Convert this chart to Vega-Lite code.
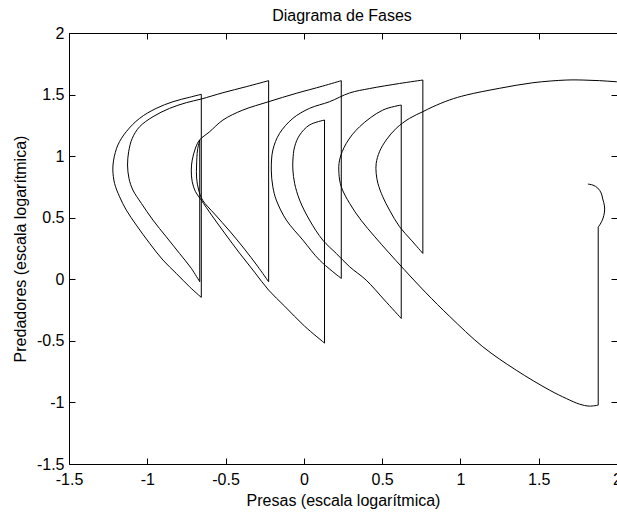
{
  "$schema": "https://vega.github.io/schema/vega-lite/v6.json",
  "width": 548,
  "height": 431,
  "autosize": {"type": "none"},
  "padding": {"left": 69, "top": 33, "right": 0, "bottom": 50},
  "background": "white",
  "config": {
    "view": {"stroke": null},
    "axis": {"domainColor": "#000", "tickColor": "#000", "labelColor": "#000", "titleColor": "#000", "domainWidth": 1, "tickWidth": 1, "grid": false, "labelFont": "Liberation Sans", "titleFont": "Liberation Sans", "labelFontSize": 16, "titleFontSize": 16, "titleFontWeight": "normal", "labelFlush": false, "labelOverlap": false}
  },
  "data": {"values": [
    {"s":"O7","i":0,"x":2.15,"y":1.59},{"s":"O7","i":1,"x":1.997,"y":1.604},{"s":"O7","i":2,"x":1.888,"y":1.613},{"s":"O7","i":3,"x":1.782,"y":1.618},{"s":"O7","i":4,"x":1.676,"y":1.618},{"s":"O7","i":5,"x":1.462,"y":1.596},{"s":"O7","i":6,"x":1.25,"y":1.551},{"s":"O7","i":7,"x":1.037,"y":1.496},{"s":"O7","i":8,"x":0.93,"y":1.456},{"s":"O7","i":9,"x":0.824,"y":1.401},{"s":"O7","i":10,"x":0.76,"y":1.361},{"s":"O7","i":11,"x":0.675,"y":1.307},{"s":"O7","i":12,"x":0.59,"y":1.226},{"s":"O7","i":13,"x":0.526,"y":1.131},{"s":"O7","i":14,"x":0.483,"y":1.036},{"s":"O7","i":15,"x":0.462,"y":0.942},{"s":"O7","i":16,"x":0.462,"y":0.86},{"s":"O7","i":17,"x":0.473,"y":0.779},{"s":"O7","i":18,"x":0.504,"y":0.67},{"s":"O7","i":19,"x":0.547,"y":0.562},{"s":"O7","i":20,"x":0.611,"y":0.427},{"s":"O7","i":21,"x":0.686,"y":0.318},{"s":"O7","i":22,"x":0.76,"y":0.21},
    {"s":"V7","i":0,"x":0.76,"y":0.21},{"s":"V7","i":1,"x":0.76,"y":1.618},
    {"s":"O4","i":0,"x":0.76,"y":1.618},{"s":"O4","i":1,"x":0.611,"y":1.59},{"s":"O4","i":2,"x":0.42,"y":1.549},{"s":"O4","i":3,"x":0.292,"y":1.513},{"s":"O4","i":4,"x":0.164,"y":1.442},{"s":"O4","i":5,"x":0.036,"y":1.388},{"s":"O4","i":6,"x":-0.07,"y":1.307},{"s":"O4","i":7,"x":-0.155,"y":1.185},{"s":"O4","i":8,"x":-0.198,"y":1.05},{"s":"O4","i":9,"x":-0.208,"y":0.887},{"s":"O4","i":10,"x":-0.198,"y":0.751},{"s":"O4","i":11,"x":-0.176,"y":0.643},{"s":"O4","i":12,"x":-0.112,"y":0.481},{"s":"O4","i":13,"x":-0.006,"y":0.318},{"s":"O4","i":14,"x":0.1,"y":0.156},{"s":"O4","i":15,"x":0.239,"y":0.007},
    {"s":"V5","i":0,"x":0.239,"y":0.007},{"s":"V5","i":1,"x":0.239,"y":1.613},
    {"s":"O3a","i":0,"x":0.239,"y":1.613},{"s":"O3a","i":1,"x":0.121,"y":1.569},{"s":"O3a","i":2,"x":-0.049,"y":1.51},{"s":"O3a","i":3,"x":-0.225,"y":1.442},{"s":"O3a","i":4,"x":-0.39,"y":1.374},{"s":"O3a","i":5,"x":-0.517,"y":1.293},{"s":"O3a","i":6,"x":-0.602,"y":1.198},{"s":"O3a","i":7,"x":-0.666,"y":1.131},{"s":"O3a","i":8,"x":-0.692,"y":1.066},{"s":"O3a","i":9,"x":-0.713,"y":0.968},{"s":"O3a","i":10,"x":-0.719,"y":0.887},{"s":"O3a","i":11,"x":-0.713,"y":0.792},{"s":"O3a","i":12,"x":-0.692,"y":0.711},{"s":"O3a","i":13,"x":-0.655,"y":0.643},{"s":"O3a","i":14,"x":-0.589,"y":0.521},{"s":"O3a","i":15,"x":-0.506,"y":0.375},{"s":"O3a","i":16,"x":-0.411,"y":0.213},{"s":"O3a","i":17,"x":-0.315,"y":0.058},{"s":"O3a","i":18,"x":-0.225,"y":-0.088},{"s":"O3a","i":19,"x":-0.123,"y":-0.218},{"s":"O3a","i":20,"x":0.004,"y":-0.38},{"s":"O3a","i":21,"x":0.132,"y":-0.518},
    {"s":"V4","i":0,"x":0.132,"y":-0.518},{"s":"V4","i":1,"x":0.132,"y":1.293},
    {"s":"O5","i":0,"x":0.132,"y":1.293},{"s":"O5","i":1,"x":0.036,"y":1.253},{"s":"O5","i":2,"x":-0.027,"y":1.171},{"s":"O5","i":3,"x":-0.059,"y":1.076},{"s":"O5","i":4,"x":-0.07,"y":0.968},{"s":"O5","i":5,"x":-0.07,"y":0.887},{"s":"O5","i":6,"x":-0.059,"y":0.779},{"s":"O5","i":7,"x":-0.027,"y":0.643},{"s":"O5","i":8,"x":0.036,"y":0.481},{"s":"O5","i":9,"x":0.121,"y":0.318},{"s":"O5","i":10,"x":0.207,"y":0.21},{"s":"O5","i":11,"x":0.292,"y":0.102},{"s":"O5","i":12,"x":0.398,"y":-0.007},{"s":"O5","i":13,"x":0.515,"y":-0.169},{"s":"O5","i":14,"x":0.622,"y":-0.318},
    {"s":"V6","i":0,"x":0.622,"y":-0.318},{"s":"V6","i":1,"x":0.622,"y":1.415},
    {"s":"O6","i":0,"x":0.622,"y":1.415},{"s":"O6","i":1,"x":0.504,"y":1.374},{"s":"O6","i":2,"x":0.356,"y":1.239},{"s":"O6","i":3,"x":0.271,"y":1.104},{"s":"O6","i":4,"x":0.228,"y":0.968},{"s":"O6","i":5,"x":0.224,"y":0.86},{"s":"O6","i":6,"x":0.239,"y":0.751},{"s":"O6","i":7,"x":0.292,"y":0.617},{"s":"O6","i":8,"x":0.365,"y":0.48},{"s":"O6","i":9,"x":0.45,"y":0.35},{"s":"O6","i":10,"x":0.54,"y":0.22},{"s":"O6","i":11,"x":0.64,"y":0.08},{"s":"O6","i":12,"x":0.78,"y":-0.11},{"s":"O6","i":13,"x":0.93,"y":-0.3},{"s":"O6","i":14,"x":1.143,"y":-0.548},{"s":"O6","i":15,"x":1.356,"y":-0.738},{"s":"O6","i":16,"x":1.569,"y":-0.9},{"s":"O6","i":17,"x":1.676,"y":-0.968},{"s":"O6","i":18,"x":1.761,"y":-1.014},{"s":"O6","i":19,"x":1.824,"y":-1.03},{"s":"O6","i":20,"x":1.88,"y":-1.022},
    {"s":"V8","i":0,"x":1.88,"y":-1.022},{"s":"V8","i":1,"x":1.88,"y":0.424},
    {"s":"H","i":0,"x":1.88,"y":0.424},{"s":"H","i":1,"x":1.893,"y":0.448},{"s":"H","i":2,"x":1.909,"y":0.489},{"s":"H","i":3,"x":1.92,"y":0.546},{"s":"H","i":4,"x":1.92,"y":0.595},{"s":"H","i":5,"x":1.909,"y":0.652},{"s":"H","i":6,"x":1.899,"y":0.7},{"s":"H","i":7,"x":1.877,"y":0.741},{"s":"H","i":8,"x":1.846,"y":0.765},{"s":"H","i":9,"x":1.814,"y":0.773},
    {"s":"O2","i":0,"x":-0.225,"y":1.613},{"s":"O2","i":1,"x":-0.368,"y":1.564},{"s":"O2","i":2,"x":-0.517,"y":1.515},{"s":"O2","i":3,"x":-0.655,"y":1.464},{"s":"O2","i":4,"x":-0.751,"y":1.434},{"s":"O2","i":5,"x":-0.858,"y":1.388},{"s":"O2","i":6,"x":-0.964,"y":1.32},{"s":"O2","i":7,"x":-1.049,"y":1.239},{"s":"O2","i":8,"x":-1.096,"y":1.145},{"s":"O2","i":9,"x":-1.119,"y":1.036},{"s":"O2","i":10,"x":-1.126,"y":0.928},{"s":"O2","i":11,"x":-1.117,"y":0.82},{"s":"O2","i":12,"x":-1.092,"y":0.725},{"s":"O2","i":13,"x":-1.038,"y":0.617},{"s":"O2","i":14,"x":-0.964,"y":0.481},{"s":"O2","i":15,"x":-0.879,"y":0.345},{"s":"O2","i":16,"x":-0.794,"y":0.21},{"s":"O2","i":17,"x":-0.719,"y":0.089},{"s":"O2","i":18,"x":-0.665,"y":-0.02},
    {"s":"V1b","i":0,"x":-0.665,"y":-0.02},{"s":"V1b","i":1,"x":-0.665,"y":1.131},
    {"s":"O3b","i":0,"x":-0.665,"y":1.131},{"s":"O3b","i":1,"x":-0.679,"y":1.05},{"s":"O3b","i":2,"x":-0.685,"y":0.928},{"s":"O3b","i":3,"x":-0.685,"y":0.822},{"s":"O3b","i":4,"x":-0.672,"y":0.725},{"s":"O3b","i":5,"x":-0.647,"y":0.643},{"s":"O3b","i":6,"x":-0.57,"y":0.53},{"s":"O3b","i":7,"x":-0.474,"y":0.392},{"s":"O3b","i":8,"x":-0.379,"y":0.245},{"s":"O3b","i":9,"x":-0.296,"y":0.107},{"s":"O3b","i":10,"x":-0.225,"y":-0.02},
    {"s":"V3","i":0,"x":-0.225,"y":-0.02},{"s":"V3","i":1,"x":-0.225,"y":1.613},
    {"s":"O1","i":0,"x":-0.655,"y":1.502},{"s":"O1","i":1,"x":-0.73,"y":1.478},{"s":"O1","i":2,"x":-0.836,"y":1.442},{"s":"O1","i":3,"x":-0.943,"y":1.388},{"s":"O1","i":4,"x":-1.049,"y":1.307},{"s":"O1","i":5,"x":-1.134,"y":1.199},{"s":"O1","i":6,"x":-1.188,"y":1.09},{"s":"O1","i":7,"x":-1.215,"y":0.968},{"s":"O1","i":8,"x":-1.22,"y":0.887},{"s":"O1","i":9,"x":-1.209,"y":0.779},{"s":"O1","i":10,"x":-1.177,"y":0.67},{"s":"O1","i":11,"x":-1.134,"y":0.562},{"s":"O1","i":12,"x":-1.07,"y":0.44},{"s":"O1","i":13,"x":-0.985,"y":0.292},{"s":"O1","i":14,"x":-0.9,"y":0.156},{"s":"O1","i":15,"x":-0.815,"y":0.048},{"s":"O1","i":16,"x":-0.73,"y":-0.061},{"s":"O1","i":17,"x":-0.655,"y":-0.147},
    {"s":"V1","i":0,"x":-0.655,"y":-0.147},{"s":"V1","i":1,"x":-0.655,"y":1.502}
  ]},
  "layer": [
    {
      "mark": {"type": "line", "color": "#000", "strokeWidth": 1, "interpolate": "catmull-rom", "clip": true},
      "encoding": {
        "x": {"field": "x", "type": "quantitative", "scale": {"domain": [-1.5, 2], "nice": false, "zero": false},
          "axis": {"orient": "bottom", "title": "Presas (escala logarítmica)", "values": [-1.5, -1, -0.5, 0, 0.5, 1, 1.5, 2], "labelExpr": "'' + datum.value", "tickSize": -6, "labelPadding": 13, "titleX": 274, "titleY": 41, "titleBaseline": "alphabetic", "titleAlign": "center", "encode": {"labels": {"update": {"dx": {"signal": "datum.value < 0 ? -4 : 0"}}}}}},
        "y": {"field": "y", "type": "quantitative", "scale": {"domain": [-1.5, 2], "nice": false, "zero": false},
          "axis": {"orient": "left", "title": "Predadores (escala logarítmica)", "values": [-1.5, -1, -0.5, 0, 0.5, 1, 1.5, 2], "labelExpr": "'' + datum.value", "tickSize": -6, "labelPadding": 11, "titleX": -44, "titleY": 215.5, "titleAngle": -90, "titleBaseline": "alphabetic", "titleAlign": "center"}},
        "detail": {"field": "s", "type": "nominal"},
        "order": {"field": "i", "type": "quantitative"}
      }
    },
    {
      "mark": {"type": "line", "opacity": 0, "clip": true},
      "encoding": {
        "x": {"field": "x", "type": "quantitative", "axis": {"orient": "top", "title": "Diagrama de Fases", "titleX": 272.5, "titleY": -13, "titleBaseline": "alphabetic", "titleAlign": "center", "titleAngle": 0, "labels": false, "values": [-1.5, -1, -0.5, 0, 0.5, 1, 1.5, 2], "tickSize": -6}},
        "y": {"field": "y", "type": "quantitative", "axis": {"orient": "right", "title": null, "labels": false, "values": [-1.5, -1, -0.5, 0, 0.5, 1, 1.5, 2], "tickSize": -6}},
        "detail": {"field": "s", "type": "nominal"},
        "order": {"field": "i", "type": "quantitative"}
      }
    }
  ],
  "resolve": {"axis": {"x": "independent", "y": "independent"}}
}
